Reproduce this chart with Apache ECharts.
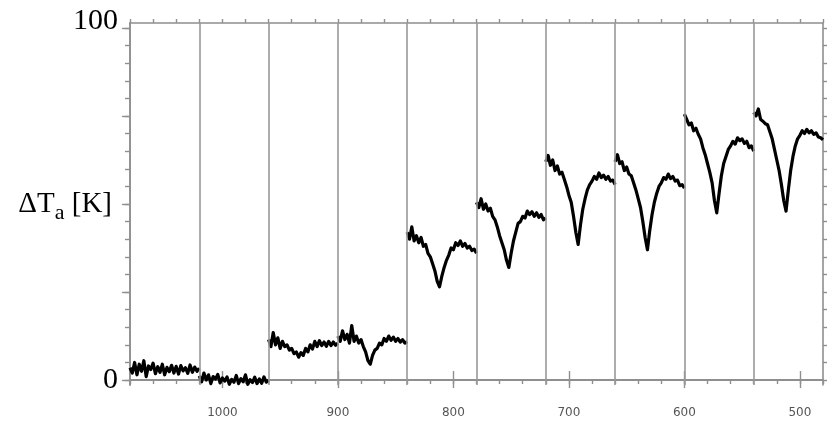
<!DOCTYPE html>
<html>
<head>
<meta charset="utf-8">
<script src="https://cdn.jsdelivr.net/npm/echarts@6/dist/echarts.min.js"></script>
<style>html,body{margin:0;padding:0;background:#fff}#c{width:827px;height:423px}</style>
</head>
<body>
<div id="c"></div>
<script>
// Segment start positions (x decreasing, step 2 units per sample)
const segStarts = [1080, 1020, 960, 900, 840, 780, 720, 660, 600, 540];
const step = 2;
// Signal per segment (ΔTa in K)
const seg1 = [3.5, 2.0, 5.0, 1.5, 4.5, 2.5, 5.5, 1.0, 4.0, 3.0, 4.8, 1.8, 3.8, 2.2, 4.5, 1.5, 3.6, 2.4, 4.2, 2.0, 3.9, 1.7, 4.1, 2.6, 3.5, 1.9, 4.3, 2.2, 3.7, 2.5, 3.4];
const seg2 = [1.2, -0.5, 2.0, 0.0, 1.5, -1.0, 1.0, 0.3, 1.6, -0.8, 0.6, -0.3, 0.9, -1.2, 0.2, -0.6, 1.3, -1.0, 0.4, -0.5, 1.5, -1.2, 0.1, -0.7, 0.8, -1.0, 0.3, -0.9, 0.9, -0.6, 0.0];
const seg3 = [11.5, 9.5, 13.5, 10.0, 12.0, 9.0, 11.0, 9.5, 10.0, 8.5, 9.0, 7.5, 8.0, 6.5, 7.8, 7.0, 9.0, 8.0, 10.0, 8.8, 11.0, 9.5, 11.2, 9.8, 10.8, 9.6, 11.0, 9.8, 10.8, 9.9, 10.5];
const seg4 = [12.5, 11.0, 14.0, 11.5, 13.0, 10.5, 15.5, 11.0, 12.5, 10.5, 11.5, 9.5, 8.0, 5.5, 4.5, 7.0, 8.5, 9.0, 10.5, 10.0, 11.8, 11.0, 12.5, 11.3, 12.2, 11.0, 11.8, 10.8, 11.5, 10.5, 10.9];
const seg5 = [42.0, 40.0, 43.5, 39.5, 41.0, 39.0, 40.5, 38.0, 38.5, 36.0, 35.0, 33.0, 31.0, 28.0, 26.5, 29.5, 32.0, 34.0, 35.5, 37.5, 37.0, 39.0, 38.2, 39.5, 38.0, 38.8, 37.5, 38.0, 36.8, 37.2, 36.0];
const seg6 = [50.5, 49.0, 51.5, 48.5, 50.0, 48.0, 48.8, 46.5, 45.5, 43.5, 41.0, 39.0, 37.0, 34.0, 32.0, 36.0, 39.5, 42.0, 44.5, 45.0, 46.5, 46.0, 48.0, 47.0, 47.8, 46.5, 47.5, 46.2, 47.0, 45.5, 46.0];
const seg7 = [62.0, 63.8, 61.0, 62.5, 59.5, 60.8, 58.5, 59.0, 57.0, 55.0, 52.5, 50.5, 46.5, 42.0, 38.5, 44.0, 48.5, 51.5, 54.0, 55.5, 56.5, 57.8, 57.0, 58.8, 57.5, 58.2, 57.0, 57.8, 56.5, 56.8, 55.5];
const seg8 = [62.0, 64.0, 61.5, 62.0, 59.5, 60.5, 58.5, 58.0, 56.0, 54.0, 51.5, 49.0, 45.0, 40.5, 37.0, 42.5, 47.0, 50.5, 53.0, 55.0, 56.0, 57.5, 57.0, 58.5, 57.2, 57.8, 56.5, 56.8, 55.2, 55.5, 54.5];
const seg9 = [75.5, 74.0, 72.5, 73.0, 70.8, 71.5, 69.8, 68.5, 66.0, 64.0, 61.5, 59.0, 56.0, 51.0, 47.5, 53.0, 58.0, 61.5, 63.5, 65.5, 66.5, 67.8, 67.0, 68.8, 68.0, 68.5, 67.2, 67.8, 66.0, 66.5, 65.0];
const seg10 = [76.0, 75.0, 77.0, 74.0, 73.5, 72.8, 72.5, 70.5, 68.5, 65.5, 62.5, 59.5, 55.5, 51.0, 48.0, 54.0, 59.5, 63.5, 66.5, 68.5, 69.5, 70.8, 70.0, 71.2, 70.2, 70.8, 69.8, 70.2, 69.0, 68.8, 68.2];
const segments = [seg1, seg2, seg3, seg4, seg5, seg6, seg7, seg8, seg9, seg10];
// Vertical separators
const dividers = [1020, 960, 900, 840, 780, 720, 660, 600, 540];
// Tick labels
const xLabels = [1000, 900, 800, 700, 600, 500];
const xMinor = [];
for (let v = 480; v <= 1080; v += 20) xMinor.push(v);
const yLabels = [0, 100];
const yMajor = [0, 25, 50, 75, 100];
const yMinor = [];
for (let v = 0; v <= 100; v += 5) yMinor.push(v);

const data = [];
segments.forEach((seg, i) => {
  seg.forEach((v, j) => data.push([segStarts[i] - j * step, v]));
  if (i < segments.length - 1) data.push([segStarts[i] - seg.length * step + step, null]);
});

const axisColor = '#8f8f8f';
const XMIN = 480, XMAX = 1080, YMIN = -1.4, YMAX = 101.4;

function xAx(pos, ticks, len, labels) {
  return {
    type: 'value', position: pos, inverse: true, min: XMIN, max: XMAX,
    axisLine: { show: true, lineStyle: { color: axisColor, width: 1.6 } },
    axisTick: { show: true, inside: false, length: len, customValues: ticks, lineStyle: { color: axisColor, width: 1.4 } },
    axisLabel: labels ? { show: true, customValues: labels, margin: 22, color: '#555', fontFamily: 'DejaVu Sans', fontSize: 12, formatter: v => String(v) } : { show: false },
    splitLine: { show: false }
  };
}
function yAx(pos, ticks, len, labels) {
  return {
    type: 'value', position: pos, min: YMIN, max: YMAX,
    axisLine: { show: true, lineStyle: { color: axisColor, width: 1.6 } },
    axisTick: { show: true, inside: false, length: len, customValues: ticks, lineStyle: { color: axisColor, width: 1.4 } },
    axisLabel: labels ? {
      show: true, customValues: labels, margin: 12,
      formatter: v => v === 100 ? '{t|100}' : '{b|' + v + '}',
      rich: {
        t: { fontFamily: 'Liberation Serif', fontSize: 30, color: '#000', padding: [0, 0, 14, 0] },
        b: { fontFamily: 'Liberation Serif', fontSize: 30, color: '#000' }
      }
    } : { show: false },
    splitLine: { show: false }
  };
}

const yMain = yAx('left', yMajor, 8, yLabels);
yMain.name = '{n|ΔT}{s|a}{n| [K]}';
yMain.nameLocation = 'middle';
yMain.nameRotate = 0;
yMain.nameGap = 18;
yMain.nameMoveOverlap = false;
yMain.nameTextStyle = {
  align: 'right',
  rich: {
    n: { fontFamily: 'Liberation Serif', fontSize: 29, color: '#000', lineHeight: 34 },
    s: { fontFamily: 'Liberation Serif', fontSize: 22, color: '#000', lineHeight: 34, padding: [18, 0, 0, 0] }
  }
};

const chart = echarts.init(document.getElementById('c'), null, { renderer: 'canvas' });
chart.setOption({
  animation: false,
  grid: { left: 130, right: 4, top: 23, bottom: 38, containLabel: false, outerBoundsMode: 'none' },
  xAxis: [
    xAx('bottom', xLabels, 8, xLabels),
    xAx('bottom', xMinor, 4, null),
    xAx('top', xLabels, 9, null),
    xAx('top', xMinor, 4, null)
  ],
  yAxis: [
    yMain,
    yAx('left', yMinor, 5, null),
    yAx('right', yMinor, 4, null)
  ],
  series: [{
    type: 'line', xAxisIndex: 0, yAxisIndex: 0, data: data,
    showSymbol: false, connectNulls: false,
    lineStyle: { color: '#000', width: 3.2, join: 'round' },
    markLine: {
      silent: true, symbol: 'none', label: { show: false },
      lineStyle: { color: '#999', type: 'solid', width: 1.6 },
      data: dividers.map(v => ({ xAxis: v }))
    }
  }]
});
</script>
</body>
</html>
